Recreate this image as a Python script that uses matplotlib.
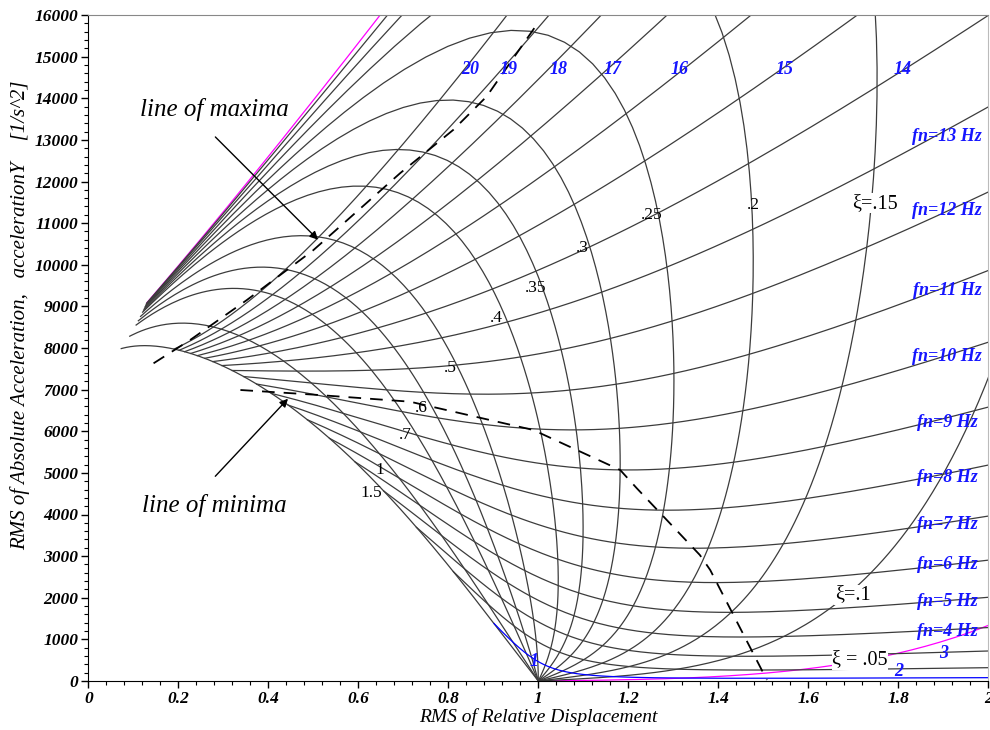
import numpy as np
import matplotlib
matplotlib.use("Agg")
import matplotlib.pyplot as plt

# base motion: flat displacement spectrum up to band_hz, unit RMS displacement
band_hz = 20.6

# natural frequencies (Hz) drawn as fn-lines, damping ratios drawn as xi-arcs
fn_lines = [1, 2, 3, 4, 5, 6, 7, 8, 9, 10, 11, 12, 13, 14, 15, 16, 17, 18, 19, 20]
xi_arcs = [0.05, 0.1, 0.15, 0.2, 0.25, 0.3, 0.35, 0.4, 0.5, 0.6, 0.7, 1.0, 1.5]
fn_arc_range = (0.01, 42.0)
xi_line_range = (0.005, 1.5)

# fn labels along right edge and along the top
right_labels = ["fn=13 Hz", "fn=12 Hz", "fn=11 Hz", "fn=10 Hz", "fn=9 Hz", "fn=8 Hz",
                "fn=7 Hz", "fn=6 Hz", "fn=5 Hz", "fn=4 Hz", "3", "2"]
right_label_y = [13070, 11315, 9390, 7785, 6220, 4880, 3770, 2810, 1900, 1180, 670, 240]
right_label_x = [1.908] * 10 + [1.90, 1.80]
top_labels = ["20", "19", "18", "17", "16", "15", "14"]
top_label_x = [0.848, 0.933, 1.044, 1.164, 1.315, 1.548, 1.81]
top_label_y = 14680

# damping labels
xi_labels = [".2", ".25", ".3", ".35", ".4", ".5", ".6", ".7", "1", "1.5"]
xi_label_x = [1.477, 1.253, 1.097, 0.993, 0.906, 0.804, 0.741, 0.704, 0.648, 0.628]
xi_label_y = [11435, 11195, 10402, 9441, 8721, 7520, 6559, 5910, 5069, 4517]

# dashed loci
max_x = [0.145, 0.226, 0.352, 0.50, 0.693, 0.811, 0.885, 0.996]
max_y = [7632, 8190, 9150, 10350, 12200, 13240, 14040, 15760]
min_x = [0.338, 0.50, 0.715, 0.989, 1.182, 1.219, 1.359, 1.382, 1.508]
min_y = [6991, 6880, 6710, 6030, 5069, 4629, 3027, 2667, 24]


def rms_response(fn, xi):
    wc = 2 * np.pi * band_hz
    wn = 2 * np.pi * fn
    w = np.linspace(0.0, wc, 3000)
    wr = wn * (1 + xi * np.linspace(-12, 12, 1201))
    w = np.unique(np.concatenate([w, wr[(wr > 0) & (wr < wc)]]))
    r = w / wn
    den = (1 - r ** 2) ** 2 + (2 * xi * r) ** 2
    rel = r ** 4 / den
    acc = w ** 4 * (1 + (2 * xi * r) ** 2) / den
    x = np.sqrt(np.trapezoid(rel, w) / wc)
    y = np.sqrt(np.trapezoid(acc, w) / wc)
    return x, y


serif = "Liberation Serif"
line_col = "#3c3c3c"

fig = plt.figure(figsize=(9.9, 7.3), dpi=100)
ax = fig.add_axes([88.3 / 990, 49 / 730, 900 / 990, 666 / 730])

# xi arcs, fn runs along each arc
fn_grid = np.geomspace(*fn_arc_range, 340)
for xi in xi_arcs:
    pts = np.array([rms_response(f, xi) for f in fn_grid])
    col = "#ff00ff" if xi == 0.05 else line_col
    ax.plot(pts[:, 0], pts[:, 1], color=col, lw=0.9)

# fn lines, xi runs along each line
xi_grid = np.geomspace(*xi_line_range, 260)
for fn in fn_lines:
    pts = np.array([rms_response(fn, z) for z in xi_grid])
    col = "#0000ff" if fn == 1 else line_col
    ax.plot(pts[:, 0], pts[:, 1], color=col, lw=0.9)

ax.plot(max_x, max_y, color="black", lw=1.3, ls=(0, (7, 5)))
ax.plot(min_x, min_y, color="black", lw=1.3, ls=(0, (7, 5)))

lab_font = dict(family=serif, style="italic", weight="bold", color="#1515ff", fontsize=13)
for t, x, y in zip(right_labels, right_label_x, right_label_y):
    ax.text(x, y, t, ha="center", va="center", **lab_font)
for t, x in zip(top_labels, top_label_x):
    ax.text(x, top_label_y, t, ha="center", va="center", **lab_font)
ax.text(0.991, 464, "1", ha="center", va="center", **lab_font)

for t, x, y in zip(xi_labels, xi_label_x, xi_label_y):
    ax.text(x, y, t, ha="center", va="center", family=serif, fontsize=12.5)
for t, x, y in [("ξ=.15", 1.748, 11483), ("ξ=.1", 1.699, 2066), ("ξ = .05", 1.715, 505)]:
    ax.text(x, y, t, ha="center", va="center", family=serif, fontsize=14.5,
            bbox=dict(facecolor="white", edgecolor="none", pad=0.5))

ax.text(0.281, 13718, "line of maxima", ha="center", va="center",
        family=serif, style="italic", fontsize=18)
ax.text(0.281, 4228, "line of minima", ha="center", va="center",
        family=serif, style="italic", fontsize=18)
arrow = dict(arrowstyle="-|>", color="black", lw=1.0, mutation_scale=12)
ax.annotate("", xy=(0.515, 10554), xytext=(0.278, 13117), arrowprops=arrow)
ax.annotate("", xy=(0.448, 6830), xytext=(0.278, 4870), arrowprops=arrow)

ax.set_xlim(0, 2)
ax.set_ylim(0, 16000)
ax.set_xticks(np.arange(0, 2.01, 0.2))
ax.set_xticklabels(["0", "0.2", "0.4", "0.6", "0.8", "1", "1.2", "1.4", "1.6", "1.8", "2"])
ax.set_xticks(np.arange(0, 2.001, 0.04), minor=True)
ax.set_yticks(np.arange(0, 16001, 1000))
ax.set_yticks(np.arange(0, 16001, 200), minor=True)
ax.tick_params(which="major", length=5, width=1, direction="out", pad=2)
ax.tick_params(which="minor", length=3, width=0.8, direction="out")
for lab in ax.get_xticklabels() + ax.get_yticklabels():
    lab.set_family(serif)
    lab.set_style("italic")
    lab.set_weight("bold")
    lab.set_fontsize(12.5)

ax.set_xlabel("RMS of Relative Displacement", family=serif, style="italic",
              fontsize=14, labelpad=1)
fig.text(20 / 990, (730 - 315) / 730,
         "RMS of Absolute Acceleration,   accelerationY    [1/s^2]",
         family=serif, style="italic", fontsize=15, rotation=90,
         ha="center", va="center")

ax.spines["left"].set_color("black")
ax.spines["bottom"].set_color("black")
ax.spines["top"].set_color("#888888")
ax.spines["right"].set_color("#bbbbbb")

fig.savefig("out.png", dpi=100)
